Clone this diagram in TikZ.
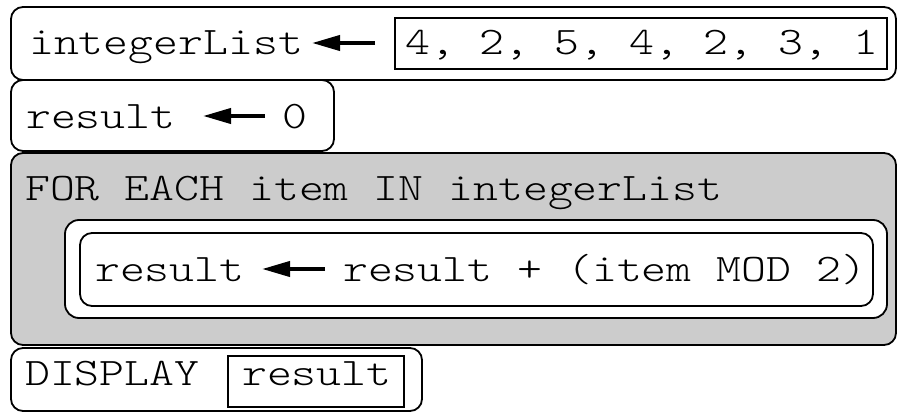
\documentclass[tikz,border=0pt]{standalone}
\usepackage{fontspec}
\setmonofont[FakeStretch=1.216]{Latin Modern Mono Light}
\usetikzlibrary{arrows.meta}
\tikzset{
  block/.style={draw=black, line width=1.8pt, rounded corners=12pt},
  loopblock/.style={block, fill=black!20},
  valbox/.style={draw=black, line width=1.8pt},
  code/.style={anchor=base west, inner sep=0pt, font=\ttfamily\fontsize{39}{39}\selectfont},
  asgn/.style={line width=4pt, -{Triangle[length=28pt,width=15pt]}},
}
\begin{document}
\begin{tikzpicture}[x=1pt,y=-1pt]
\useasboundingbox (0,0) rectangle (897,412);
% outer blocks
\draw[block] (11,7) rectangle (896,80);
\draw[block] (11,80) rectangle (334,151);
\draw[loopblock] (11,153) rectangle (896,345);
\draw[block] (11,348) rectangle (422,411);
% line 1
\node[code] (v1) at (29,55) {integerList};
\draw[valbox] (395,18) rectangle (887,69);
\node[code] (l1) at (405,55) {4, 2, 5, 4, 2, 3, 1};
\coordinate (a1s) at (375,43);
\coordinate (a1e) at (312,43);
\draw[asgn] (a1s) -- (a1e);
% line 2
\node[code] (v2) at (26,128) {result};
\node[code] (z2) at (282,128) {0};
\coordinate (a2s) at (265,116);
\coordinate (a2e) at (203,116);
\draw[asgn] (a2s) -- (a2e);
% loop
\node[code] (f3) at (25,200) {FOR EACH item IN integerList};
\draw[draw=black, line width=1.8pt, rounded corners=14pt, fill=white] (65,220) rectangle (887,318);
\draw[block] (80,233) rectangle (873,306);
\node[code] (v3) at (95,281) {result};
\node[code] (e3) at (343,281) {result + (item MOD 2)};
\coordinate (a3s) at (325,269);
\coordinate (a3e) at (262,269);
\draw[asgn] (a3s) -- (a3e);
% display
\node[code] (d4) at (25,385) {DISPLAY};
\draw[valbox] (228,356) rectangle (404,407);
\node[code] (r4) at (242,385) {result};
\end{tikzpicture}
\end{document}
